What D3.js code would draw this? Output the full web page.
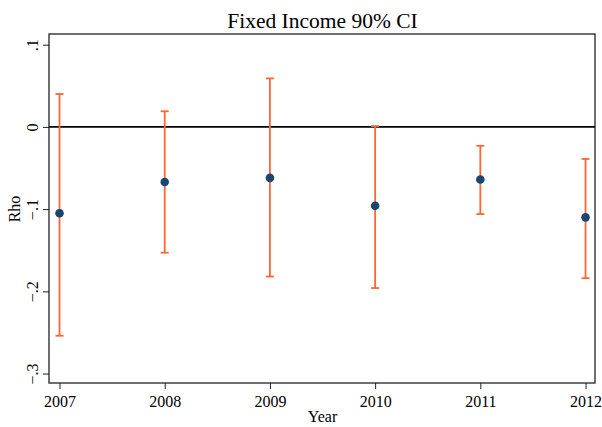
<!DOCTYPE html>
<html>
<head>
<meta charset="utf-8">
<script src="https://cdn.jsdelivr.net/npm/d3@7"></script>
<style>
  body { margin: 0; background: #fff; }
  text { font-family: "Liberation Serif", "Times New Roman", serif; fill: #000; }
</style>
</head>
<body>
<div class="chart"></div>
<script>
// values
const years = [2007, 2008, 2009, 2010, 2011, 2012];
const rho = [-0.105, -0.067, -0.062, -0.096, -0.064, -0.110];
const upper = [0.040, 0.019, 0.059, 0.001, -0.023, -0.039];
const lower = [-0.254, -0.153, -0.182, -0.196, -0.106, -0.184];
const yTicks = [0.1, 0, -0.1, -0.2, -0.3];

const w = 602;
const h = 427;
const m = {top: 34, right: 7, bottom: 44, left: 49};

const svg = d3.select(".chart")
  .append("svg")
  .attr("width", w)
  .attr("height", h)
  .style("background-color", "white");

const x = d3.scaleLinear()
  .domain([2006.9, 2012.09])
  .range([m.left, w - m.right]);

const y = d3.scaleLinear()
  .domain([-0.3115, 0.113])
  .range([h - m.bottom, m.top]);

// frame
svg.append("rect")
  .attr("x", m.left).attr("y", m.top)
  .attr("width", w - m.left - m.right)
  .attr("height", h - m.top - m.bottom)
  .attr("fill", "none")
  .attr("stroke", "#222")
  .attr("stroke-width", 1.3);

// y axis, labels turned like Stata
const yAxis = svg.append("g")
  .attr("transform", "translate(" + m.left + ",0)")
  .call(d3.axisLeft(y).tickValues(yTicks).tickSize(6)
    .tickFormat(d => d === 0 ? "0" : d3.format(".1f")(d).replace("0.", ".")));
yAxis.select(".domain").remove();
yAxis.selectAll("line").attr("stroke", "#222");
yAxis.selectAll("text")
  .attr("x", 0).attr("dy", 0)
  .attr("transform", "translate(-11.5,0) rotate(-90)")
  .attr("text-anchor", "middle")
  .style("font-size", "16px")
  .style("font-family", "Liberation Serif");

// x axis
const xAxis = svg.append("g")
  .attr("transform", "translate(0," + (h - m.bottom) + ")")
  .call(d3.axisBottom(x).tickValues(years).tickSize(6)
    .tickFormat(d3.format("d")));
xAxis.select(".domain").remove();
xAxis.selectAll("line").attr("stroke", "#222");
xAxis.selectAll("text")
  .attr("y", 24).attr("dy", 0)
  .style("font-size", "16px")
  .style("font-family", "Liberation Serif");

// zero line
svg.append("line")
  .attr("x1", m.left).attr("x2", w - m.right)
  .attr("y1", y(0)).attr("y2", y(0))
  .attr("stroke", "#000")
  .attr("stroke-width", 1.6);

// confidence intervals
const ci = svg.selectAll(".ci")
  .data(years)
  .enter()
  .append("g")
  .attr("class", "ci");

const orange = "#ff6633";
ci.append("line")
  .attr("x1", d => x(d)).attr("x2", d => x(d))
  .attr("y1", (d, i) => y(upper[i]))
  .attr("y2", (d, i) => y(lower[i]))
  .attr("stroke", orange).attr("stroke-width", 1.8);
ci.append("line")
  .attr("x1", d => x(d) - 4).attr("x2", d => x(d) + 4)
  .attr("y1", (d, i) => y(upper[i])).attr("y2", (d, i) => y(upper[i]))
  .attr("stroke", orange).attr("stroke-width", 1.8);
ci.append("line")
  .attr("x1", d => x(d) - 4).attr("x2", d => x(d) + 4)
  .attr("y1", (d, i) => y(lower[i])).attr("y2", (d, i) => y(lower[i]))
  .attr("stroke", orange).attr("stroke-width", 1.8);

// point estimates
svg.selectAll(".pt")
  .data(years)
  .enter()
  .append("circle")
  .attr("class", "pt")
  .attr("cx", d => x(d))
  .attr("cy", (d, i) => y(rho[i]))
  .attr("r", 4.3)
  .attr("fill", "#1a476f");

// titles
svg.append("text")
  .attr("x", 322.5).attr("y", 27.5)
  .attr("text-anchor", "middle")
  .style("font-size", "21.5px")
  .text("Fixed Income 90% CI");

svg.append("text")
  .attr("x", 322.5).attr("y", 421.5)
  .attr("text-anchor", "middle")
  .style("font-size", "16px")
  .text("Year");

svg.append("text")
  .attr("transform", "translate(20,209) rotate(-90)")
  .attr("text-anchor", "middle")
  .style("font-size", "16px")
  .text("Rho");
</script>
</body>
</html>
